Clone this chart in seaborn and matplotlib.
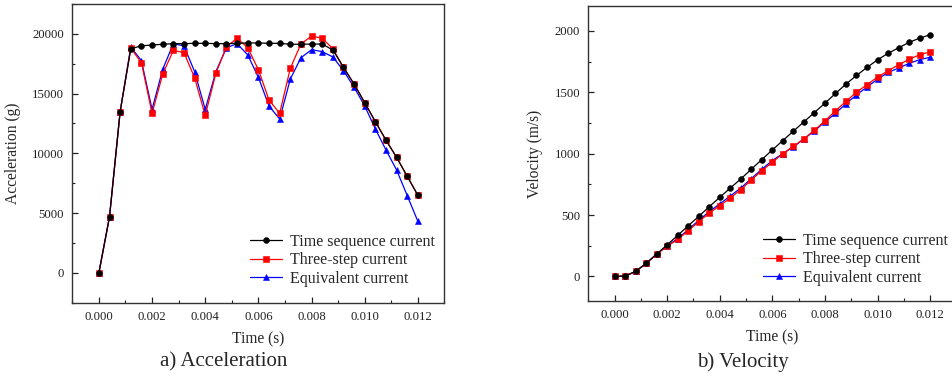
import numpy as np
import pandas as pd
import matplotlib
matplotlib.use("Agg")
import matplotlib.pyplot as plt
import seaborn as sns
from matplotlib.ticker import MultipleLocator, FixedLocator

# ---------------- data ----------------
time_s = [0.0000, 0.0004, 0.0008, 0.0012, 0.0016, 0.0020, 0.0024, 0.0028, 0.0032, 0.0036,
          0.0040, 0.0044, 0.0048, 0.0052, 0.0056, 0.0060, 0.0064, 0.0068, 0.0072, 0.0076,
          0.0080, 0.0084, 0.0088, 0.0092, 0.0096, 0.0100, 0.0104, 0.0108, 0.0112, 0.0116,
          0.0120]

acc_time_seq = [0, 4700, 13500, 18750, 19000, 19070, 19130, 19180, 19180, 19210,
                19210, 19180, 19180, 19210, 19240, 19240, 19210, 19210, 19130, 19130,
                19150, 19150, 18650, 17200, 15800, 14240, 12650, 11100, 9660, 8070,
                6480]
acc_three_step = [0, 4700, 13500, 18800, 17590, 13350, 16620, 18620, 18430, 16330,
                  13180, 16700, 18930, 19630, 18840, 17000, 14460, 13350, 17120, 19150,
                  19820, 19630, 18760, 17200, 15800, 14240, 12650, 11100, 9660, 8070,
                  6480]
acc_equivalent = [0, 4700, 13500, 18900, 17760, 13680, 17030, 19180, 18990, 16840,
                  13680, 16840, 18840, 19180, 18230, 16360, 13960, 12870, 16220, 18000,
                  18680, 18510, 18070, 16920, 15530, 13960, 12040, 10280, 8600, 6450,
                  4300]

vel_time_seq = [0, 3, 41, 106, 182, 258, 334, 413, 489, 568,
                644, 720, 794, 873, 952, 1030, 1107, 1183, 1259, 1335,
                1411, 1490, 1566, 1637, 1702, 1764, 1817, 1862, 1906, 1941,
                1968]
vel_three_step = [0, 3, 41, 106, 182, 245, 302, 372, 446, 516,
                  576, 639, 707, 786, 862, 930, 1001, 1060, 1120, 1191,
                  1267, 1349, 1426, 1500, 1562, 1623, 1675, 1724, 1768, 1805,
                  1829]
vel_equivalent = [0, 3, 41, 106, 182, 250, 308, 381, 457, 528,
                  591, 655, 720, 797, 873, 944, 1001, 1055, 1120, 1185,
                  1259, 1328, 1407, 1478, 1543, 1606, 1661, 1697, 1735, 1765,
                  1785]

series_names = ["Time sequence current", "Three-step current", "Equivalent current"]
series_colors = ["#000000", "#ff0000", "#0000ff"]
series_markers = ["o", "s", "^"]

acc_ticks = [0, 5000, 10000, 15000, 20000]
vel_ticks = [0, 500, 1000, 1500, 2000]
time_ticks = [0.000, 0.002, 0.004, 0.006, 0.008, 0.010, 0.012]
time_tick_labels = ["0.000", "0.002", "0.004", "0.006", "0.008", "0.010", "0.012"]

# ---------------- style ----------------
sns.set_style("ticks")
plt.rcParams["font.family"] = ["Liberation Serif", "DejaVu Serif"]

W, H = 953, 379
fig = plt.figure(figsize=(W / 100, H / 100), dpi=100)

def fx(px):
    return px / W

def fy(py):
    return 1 - py / H

ax1 = fig.add_axes([fx(72.3), fy(302.7), fx(444.5 - 72.3), (302.7 - 4.0) / H])
ax2 = fig.add_axes([fx(588.3), fy(301.0), fx(956.4 - 588.3), (301.0 - 6.3) / H])


def draw(ax, values_list):
    # draw in reverse so the black series lies on top
    for name, vals, col, mk in reversed(list(zip(series_names, values_list, series_colors, series_markers))):
        df = pd.DataFrame({"t": time_s, "v": vals})
        sns.lineplot(data=df, x="t", y="v", ax=ax, color=col, marker=mk,
                     markersize=4.2, markeredgewidth=0.4, markeredgecolor=col,
                     linewidth=0.9, label=name, legend=False)
    by_label = {l.get_label(): l for l in ax.get_lines()}
    return [by_label[n] for n in series_names]


h1 = draw(ax1, [acc_time_seq, acc_three_step, acc_equivalent])
h2 = draw(ax2, [vel_time_seq, vel_three_step, vel_equivalent])

for ax, ylim, yticks, ymin_step, ylabel in [
    (ax1, (-2500, 22500), acc_ticks, 2500, "Acceleration (g)"),
    (ax2, (-200, 2200), vel_ticks, 250, "Velocity (m/s)"),
]:
    ax.set_xlim(-0.001, 0.013)
    ax.set_ylim(*ylim)
    ax.xaxis.set_major_locator(FixedLocator(time_ticks))
    ax.set_xticklabels(time_tick_labels)
    ax.xaxis.set_minor_locator(MultipleLocator(0.001))
    ax.yaxis.set_major_locator(FixedLocator(yticks))
    ax.yaxis.set_minor_locator(MultipleLocator(ymin_step))
    ax.tick_params(which="both", direction="in", top=False, right=False,
                   labelsize=9.2, colors="#222222", pad=6)
    ax.tick_params(which="major", length=4.5, width=0.9)
    ax.tick_params(which="minor", length=2.5, width=0.8)
    for sp in ax.spines.values():
        sp.set_visible(True)
        sp.set_linewidth(1.0)
        sp.set_color("#333333")
    ax.set_xlabel("Time (s)", fontsize=11.2, labelpad=6)
    ax.set_ylabel(ylabel, fontsize=11.2, labelpad=8)
    ax.grid(False)

leg_kw = dict(frameon=False, fontsize=11.5, handlelength=2.0, handletextpad=0.5,
              labelspacing=0.15, borderpad=0, borderaxespad=0, loc="upper left")
fig.legend(h1, series_names, bbox_to_anchor=(fx(250), fy(234)), **leg_kw)
fig.legend(h2, series_names, bbox_to_anchor=(fx(763), fy(233)), **leg_kw)

fig.text(fx(224), fy(362), "a) Acceleration", ha="center", va="center", fontsize=15)
fig.text(fx(743), fy(362), "b) Velocity", ha="center", va="center", fontsize=15)

fig.savefig("out.png", dpi=100)
